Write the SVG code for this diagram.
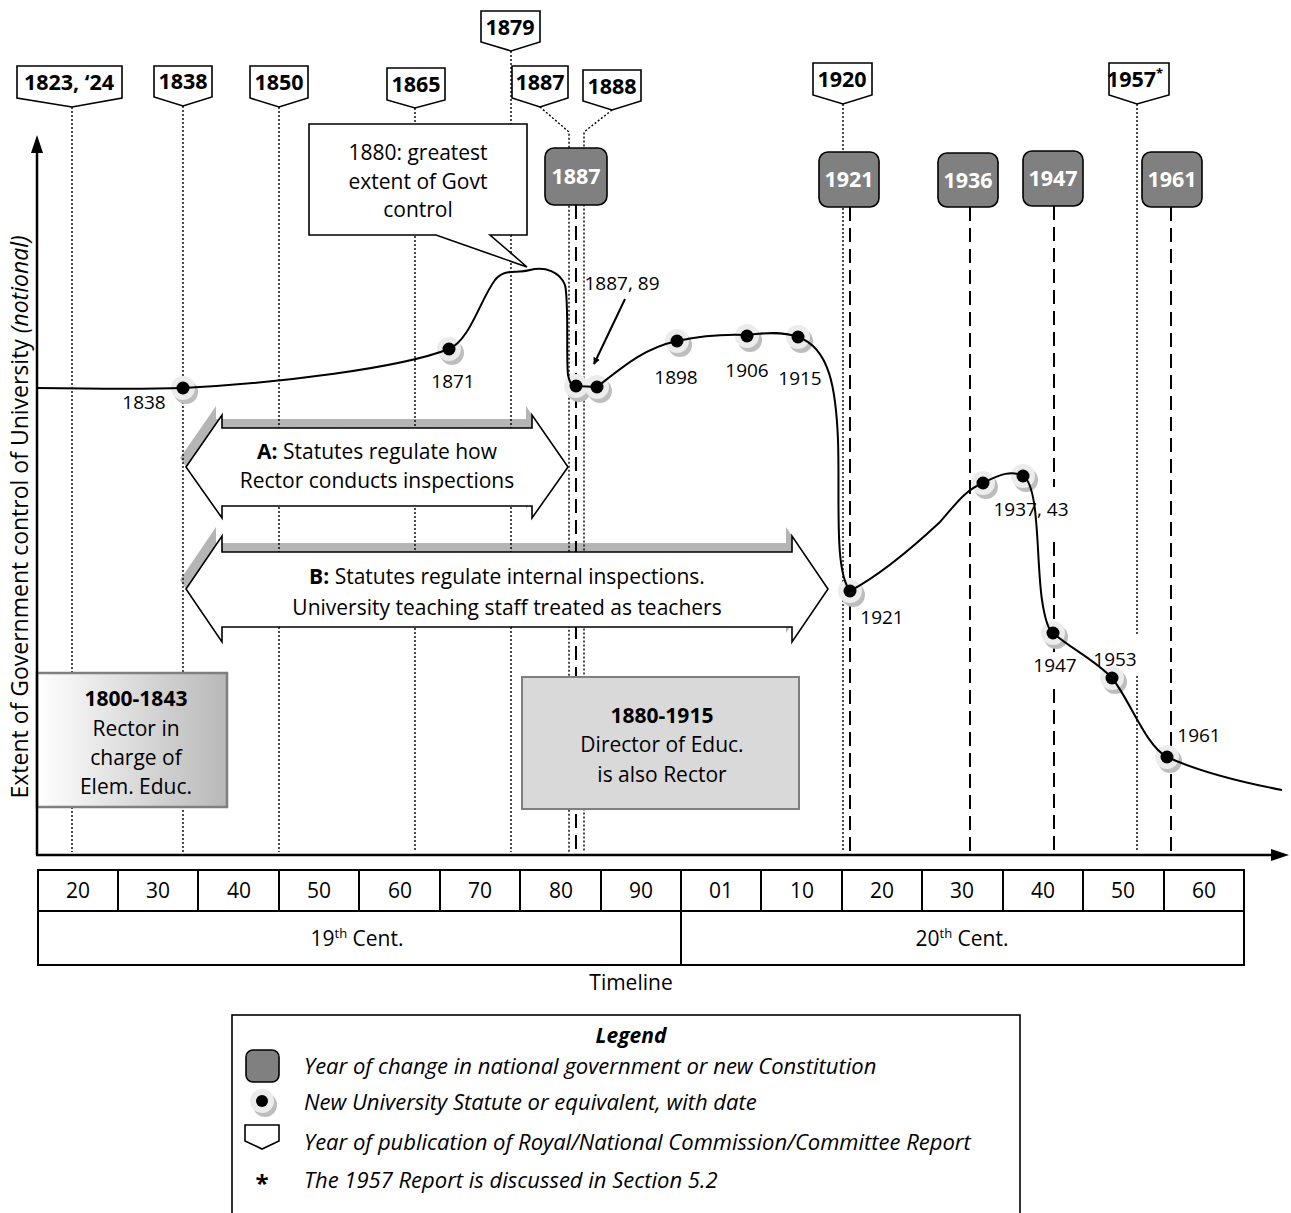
<svg xmlns="http://www.w3.org/2000/svg" width="1291" height="1213" viewBox="0 0 1291 1213">
<style>
text{font-family:"Open Sans","Liberation Sans",sans-serif;fill:#000}
.t18{font-size:21px}
.lbl{font-size:19px}
.bn{font-size:21.5px;font-weight:bold;text-anchor:middle}
.gb{font-size:21.5px;font-weight:bold;fill:#fff;text-anchor:middle}
.mid{text-anchor:middle}
.dot{stroke:#000;stroke-width:1.4;stroke-dasharray:2 2;fill:none}
.dash{stroke:#000;stroke-width:2;stroke-dasharray:14 7;fill:none}
.banner{fill:#fff;stroke:#000;stroke-width:1.6}
.gov{fill:#808080;stroke:#000;stroke-width:1.6}
.ax{stroke:#000;stroke-width:2.5;fill:none}
.cell{fill:#fff;stroke:#000;stroke-width:2}
.tc{font-size:21px;text-anchor:middle}
.leg{font-size:22px;font-style:italic}
</style>
<defs>
<linearGradient id="lg" x1="0" y1="0" x2="1" y2="0">
<stop offset="0" stop-color="#ffffff"/>
<stop offset="1" stop-color="#b8b8b8"/>
</linearGradient>
<g id="halo">
<circle cx="3" cy="4" r="12" fill="#bdbdbd"/>
<circle cx="0" cy="0" r="12" fill="#ececec"/>
</g>
<marker id="ah" viewBox="0 0 10 10" refX="9" refY="5" markerWidth="7" markerHeight="7" orient="auto" markerUnits="userSpaceOnUse">
<path d="M0,0 L10,5 L0,10 Z" fill="#000"/>
</marker>
</defs>
<rect width="1291" height="1213" fill="#fff"/>

<!-- arrow shadows -->
<g id="shadows" fill="#b5b5b5">
<path d="M180,458 L216,406 V419 H526 V406 L562,458 L526,509 V497 H216 V509 Z"/>
<path d="M180,580 L216,527 V543 H786 V527 L822,580 L786,633 V618 H216 V633 Z"/>
</g>

<!-- connectors: report lines (dotted) and government change lines (dashed) -->
<g id="connectors">
<path class="dot" d="M72,107 V852"/>
<path class="dot" d="M183,106 V852"/>
<path class="dot" d="M279,107 V852"/>
<path class="dot" d="M415,108 V852"/>
<path class="dot" d="M511,51 V852"/>
<path class="dot" d="M540,107 L569,132 V852"/>
<path class="dot" d="M612,110 L584,132 V852"/>
<path class="dot" d="M843,104 V852"/>
<path class="dot" d="M1137,104 V852"/>
<path class="dash" d="M576,205 V852"/>
<path class="dash" d="M850,207 V852"/>
<path class="dash" d="M970,207 V852"/>
<path class="dash" d="M1054,206 V852"/>
<path class="dash" d="M1171,207 V852"/>
<path d="M625,299 L594,364" stroke="#000" stroke-width="2" fill="none" marker-end="url(#ah)"/>
</g>

<!-- label backgrounds -->
<g fill="#fff">
<rect x="993" y="487" width="78" height="51"/>
<rect x="1028" y="652" width="54" height="36"/>
<rect x="1087" y="636" width="56" height="39"/>
</g>

<!-- arrows A and B -->
<g id="arrowA">
<path d="M186,467 L222,415 V428 H532 V415 L568,467 L532,518 V506 H222 V518 Z" fill="#fff" stroke="#000" stroke-width="1.6"/>
<text class="t18 mid" x="377" y="459"><tspan font-weight="bold">A:</tspan> Statutes regulate how</text>
<text class="t18 mid" x="377" y="488">Rector conducts inspections</text>
</g>
<g id="arrowB">
<path d="M186,589 L222,536 V552 H792 V536 L828,589 L792,642 V627 H222 V642 Z" fill="#fff" stroke="#000" stroke-width="1.6"/>
<text class="t18 mid" x="507" y="584"><tspan font-weight="bold">B:</tspan> Statutes regulate internal inspections.</text>
<text class="t18 mid" x="507" y="615">University teaching staff treated as teachers</text>
</g>

<!-- period boxes -->
<g id="box1800">
<rect x="37" y="673" width="190" height="134" fill="url(#lg)" stroke="#808080" stroke-width="2.5"/>
<text class="t18 mid" x="136" y="706" font-weight="bold">1800-1843</text>
<text class="t18 mid" x="136" y="736">Rector in</text>
<text class="t18 mid" x="136" y="765">charge of</text>
<text class="t18 mid" x="136" y="794">Elem. Educ.</text>
</g>
<g id="box1880">
<rect x="522" y="677" width="277" height="132" fill="#d9d9d9" stroke="#7f7f7f" stroke-width="2"/>
<text class="t18 mid" x="662" y="723" font-weight="bold">1880-1915</text>
<text class="t18 mid" x="662" y="752">Director of Educ.</text>
<text class="t18 mid" x="662" y="782">is also Rector</text>
</g>

<!-- callout -->
<g id="callout">
<path d="M309,124 H527 V235 H490 L527,267 L436,235 H309 Z" fill="#fff" stroke="#000" stroke-width="1.6"/>
<text class="t18 mid" x="418" y="160">1880: greatest</text>
<text class="t18 mid" x="418" y="189">extent of Govt</text>
<text class="t18 mid" x="418" y="217">control</text>
</g>

<!-- report banners -->
<g id="r1823"><path class="banner" d="M17,66 H122 V98 L72,107 L17,98 Z"/><text class="bn" x="69" y="90">1823, ‘24</text></g>
<g id="r1838"><path class="banner" d="M154,66 H212 V97 L183,106 L154,97 Z"/><text class="bn" x="183" y="89">1838</text></g>
<g id="r1850"><path class="banner" d="M250,66 H308 V98 L279,107 L250,98 Z"/><text class="bn" x="279" y="90">1850</text></g>
<g id="r1865"><path class="banner" d="M387,68 H445 V100 L415,108 L387,100 Z"/><text class="bn" x="416" y="92">1865</text></g>
<g id="r1879"><path class="banner" d="M481,11 H540 V42 L511,51 L481,42 Z"/><text class="bn" x="510" y="35">1879</text></g>
<g id="r1887"><path class="banner" d="M512,66 H568 V98 L540,107 L512,98 Z"/><text class="bn" x="540" y="90">1887</text></g>
<g id="r1888"><path class="banner" d="M583,70 H641 V101 L612,110 L583,101 Z"/><text class="bn" x="612" y="94">1888</text></g>
<g id="r1920"><path class="banner" d="M813,63 H872 V95 L843,104 L813,95 Z"/><text class="bn" x="842" y="87">1920</text></g>
<g id="r1957"><path class="banner" d="M1109,63 H1169 V95 L1137,104 L1109,95 Z"/><text class="bn" x="1135" y="87">1957<tspan font-size="13" dy="-9">*</tspan></text></g>

<!-- government change boxes -->
<g id="g1887"><rect class="gov" x="545" y="148" width="62" height="57" rx="9"/><text class="gb" x="576" y="184">1887</text></g>
<g id="g1921"><rect class="gov" x="819" y="152" width="60" height="55" rx="9"/><text class="gb" x="849" y="187">1921</text></g>
<g id="g1936"><rect class="gov" x="938" y="153" width="60" height="54" rx="9"/><text class="gb" x="968" y="188">1936</text></g>
<g id="g1947"><rect class="gov" x="1023" y="151" width="60" height="55" rx="9"/><text class="gb" x="1053" y="186">1947</text></g>
<g id="g1961"><rect class="gov" x="1142" y="152" width="60" height="55" rx="9"/><text class="gb" x="1172" y="187">1961</text></g>

<!-- statute halos -->
<g id="halos">
<use href="#halo" x="183" y="388"/>
<use href="#halo" x="449" y="349"/>
<use href="#halo" x="576" y="386"/>
<use href="#halo" x="597" y="387"/>
<use href="#halo" x="677" y="341"/>
<use href="#halo" x="747" y="336"/>
<use href="#halo" x="798" y="337"/>
<use href="#halo" x="850" y="591"/>
<use href="#halo" x="983" y="483"/>
<use href="#halo" x="1023" y="476"/>
<use href="#halo" x="1053" y="633"/>
<use href="#halo" x="1112" y="678"/>
<use href="#halo" x="1167" y="757"/>
</g>

<!-- control curve -->
<path id="curve" d="M37,388 C110,389 150,389 183,388 C280,383 400,368 449,349 C470,340 480,300 495,280 C505,268 515,274 530,270 C545,266 560,272 565,285 C569,300 566,360 568,375 C570,384 572,386 576,386 L597,387 C625,365 645,348 677,341 C700,336 725,334 747,335 C770,332 785,332 798,337 C830,348 836,390 838,440 C840,500 834,570 850,591 C880,575 910,550 940,522 C955,505 965,490 983,483 C1000,474 1012,470 1023,476 C1040,486 1036,560 1042,600 C1045,620 1048,630 1053,633 C1070,648 1095,660 1112,678 C1130,700 1145,745 1167,757 C1200,772 1240,782 1282,790" fill="none" stroke="#000" stroke-width="2"/>

<!-- statute dots -->
<g id="statutes" fill="#000">
<circle cx="183" cy="388" r="6.5"/>
<circle cx="449" cy="349" r="6.5"/>
<circle cx="576" cy="386" r="6.5"/>
<circle cx="597" cy="387" r="6.5"/>
<circle cx="677" cy="341" r="6.5"/>
<circle cx="747" cy="336" r="6.5"/>
<circle cx="798" cy="337" r="6.5"/>
<circle cx="850" cy="591" r="6.5"/>
<circle cx="983" cy="483" r="6.5"/>
<circle cx="1023" cy="476" r="6.5"/>
<circle cx="1053" cy="633" r="6.5"/>
<circle cx="1112" cy="678" r="6.5"/>
<circle cx="1167" cy="757" r="6.5"/>
</g>
<g id="statute-labels">
<text class="lbl mid" x="144" y="409">1838</text>
<text class="lbl mid" x="453" y="388">1871</text>
<text class="lbl mid" x="622" y="290">1887, 89</text>
<text class="lbl mid" x="676" y="384">1898</text>
<text class="lbl mid" x="747" y="377">1906</text>
<text class="lbl mid" x="800" y="385">1915</text>
<text class="lbl mid" x="882" y="624">1921</text>
<text class="lbl mid" x="1031" y="516">1937, 43</text>
<text class="lbl mid" x="1055" y="672">1947</text>
<text class="lbl mid" x="1115" y="666">1953</text>
<text class="lbl mid" x="1199" y="742">1961</text>
</g>

<!-- axes -->
<g id="axes">
<path class="ax" d="M37,855 V150"/>
<path d="M37,135 L31,153 L43,153 Z" fill="#000"/>
<path class="ax" d="M36,855 H1272"/>
<path d="M1289,855 L1271,849 L1271,861 Z" fill="#000"/>
<text font-size="23" class="mid" transform="translate(28,517) rotate(-90)">Extent of Government control of University <tspan font-style="italic">(notional)</tspan></text>
</g>

<!-- timeline table -->
<g id="timeline">
<rect class="cell" x="38" y="870" width="1206" height="95"/>
<path d="M38,911 H1244 M118,870 V911 M198,870 V911 M279,870 V911 M359,870 V911 M440,870 V911 M520,870 V911 M601,870 V911 M681,870 V965 M761,870 V911 M842,870 V911 M922,870 V911 M1003,870 V911 M1083,870 V911 M1164,870 V911" stroke="#000" stroke-width="2" fill="none"/>
<text class="tc" x="78" y="898">20</text>
<text class="tc" x="158" y="898">30</text>
<text class="tc" x="239" y="898">40</text>
<text class="tc" x="319" y="898">50</text>
<text class="tc" x="400" y="898">60</text>
<text class="tc" x="480" y="898">70</text>
<text class="tc" x="561" y="898">80</text>
<text class="tc" x="641" y="898">90</text>
<text class="tc" x="721" y="898">01</text>
<text class="tc" x="802" y="898">10</text>
<text class="tc" x="882" y="898">20</text>
<text class="tc" x="962" y="898">30</text>
<text class="tc" x="1043" y="898">40</text>
<text class="tc" x="1123" y="898">50</text>
<text class="tc" x="1204" y="898">60</text>
<text class="tc" x="357" y="946">19<tspan font-size="13" dy="-8">th</tspan><tspan dy="8"> Cent.</tspan></text>
<text class="tc" x="962" y="946">20<tspan font-size="13" dy="-8">th</tspan><tspan dy="8"> Cent.</tspan></text>
<text class="tc" x="631" y="990">Timeline</text>
</g>

<!-- legend -->
<g id="legend">
<rect x="232" y="1015" width="788" height="210" fill="#fff" stroke="#000" stroke-width="1.6"/>
<text x="631" y="1043" class="mid" font-size="21" font-weight="bold" font-style="italic">Legend</text>
<rect class="gov" x="246" y="1050" width="33" height="32" rx="7"/>
<text class="leg" x="304" y="1074">Year of change in national government or new Constitution</text>
<use href="#halo" x="262" y="1101"/>
<circle cx="262" cy="1101" r="6" fill="#000"/>
<text class="leg" x="304" y="1110">New University Statute or equivalent, with date</text>
<path class="banner" d="M245,1125 H279 V1141 L262,1149 L245,1141 Z"/>
<text class="leg" x="304" y="1150">Year of publication of Royal/National Commission/Committee Report</text>
<text x="262" y="1192" class="mid" font-size="24" font-weight="bold">*</text>
<text class="leg" x="304" y="1188">The 1957 Report is discussed in Section 5.2</text>
</g>
</svg>
